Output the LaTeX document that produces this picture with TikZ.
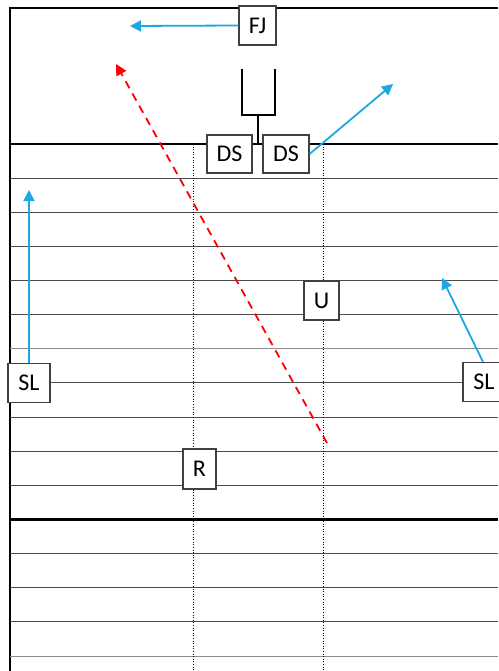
\documentclass[tikz,border=0pt]{standalone}
\usepackage{fontspec}
\setmainfont{Carlito}
\usetikzlibrary{arrows.meta}
\definecolor{route}{HTML}{1BA8E3}
\definecolor{boxline}{HTML}{404040}
\tikzset{
  player/.style={draw=boxline, line width=1.2pt, fill=white, inner sep=0pt,
    minimum height=39pt, font=\fontsize{24}{28}\selectfont},
  yard/.style={draw=black!70, line width=1pt},
  yardlight/.style={draw=black!45, line width=0.9pt},
  thick line/.style={draw=black, line width=2.5pt},
  hash/.style={draw=black, line width=0.6pt, dotted},
  routearrow/.style={draw=route, line width=1.8pt, -{Triangle[length=11pt,width=11pt]}},
  readarrow/.style={draw=red, line width=1.8pt, dash pattern=on 8pt off 6pt, -{Triangle[length=11pt,width=11pt]}}
}
\begin{document}
\begin{tikzpicture}[x=1pt,y=-1pt]
\useasboundingbox (0,0) rectangle (498,671);
\fill[white] (0,0) rectangle (498,671);
% frame
\draw[black, line width=1.5pt] (498,8) -- (10,8) -- (10,671);
% yard lines
\foreach \i in {1,2,3,4,5,7,8,9,10,12,13,14}{
  \draw[yard] (10,{144+34.13*\i}) -- (498,{144+34.13*\i});
}
\foreach \i in {6,15}{
  \draw[yardlight] (10,{144+34.13*\i}) -- (498,{144+34.13*\i});
}
\draw[thick line] (10,144) -- (498,144);
\draw[thick line] (10,519.5) -- (498,519.5);
% hash lines
\draw[hash] (193,144) -- (193,671);
\draw[hash] (323,144) -- (323,671);
% snapper
\draw[black, line width=1.5pt] (242,69) -- (242,115) -- (275,115) -- (275,69);
\draw[black, line width=1.5pt] (258,115) -- (258,144);
% players
\node[player, minimum width=37pt] (FJ) at (257.5,25.5) {FJ};
\node[player, minimum width=45pt, minimum height=38pt] (DS1) at (229.5,154) {DS};
\node[player, minimum width=46pt, minimum height=38pt] (DS2) at (286,154) {DS};
\node[player, minimum width=42pt] (SLL) at (29,383) {SL};
\node[player, minimum width=42pt] (SLR) at (484,382) {SL};
\node[player, minimum width=35pt] (U) at (321.5,300.5) {U};
\node[player, minimum width=33pt, minimum height=40pt] (R) at (199.5,469) {R};
% route ends
\coordinate (fjend) at (130,26);
\coordinate (dsend) at (393,84);
\coordinate (sllend) at (29,190);
\coordinate (slrend) at (442,278);
\coordinate (redstart) at (327,443);
\coordinate (redend) at (116,64);
% routes
\draw[routearrow] (FJ.west) -- (fjend);
\draw[routearrow] (DS2.east) -- (dsend);
\draw[routearrow] (SLL.north) -- (sllend);
\draw[routearrow] (SLR.north) ++(-1,0) -- (slrend);
\draw[readarrow] (redstart) -- (redend);
\end{tikzpicture}
\end{document}
